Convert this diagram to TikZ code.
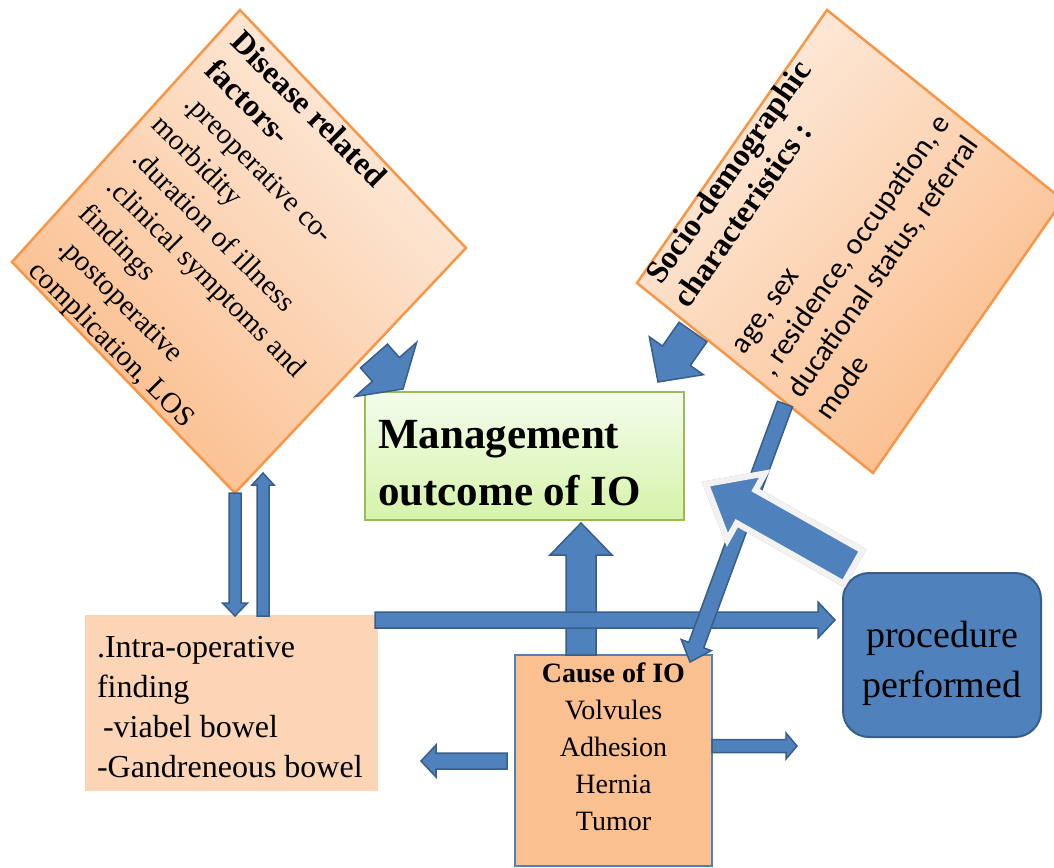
\documentclass[tikz,border=0pt]{standalone}
\usepackage{fontspec}
\setmainfont{Liberation Serif}
\newfontfamily\calibrifont{Carlito}
\usetikzlibrary{calc}
\definecolor{oborder}{RGB}{247,150,70}
\definecolor{olight}{RGB}{253,236,222}
\definecolor{odark}{RGB}{251,188,138}
\definecolor{bfill}{RGB}{79,129,189}
\definecolor{bdraw}{RGB}{56,93,138}
\definecolor{gtop}{RGB}{244,252,236}
\definecolor{gbot}{RGB}{214,243,170}
\definecolor{gdraw}{RGB}{155,187,89}
\definecolor{causefill}{RGB}{250,192,144}
\definecolor{intrafill}{RGB}{251,213,181}
\definecolor{bigborder}{RGB}{242,242,242}
\tikzset{
  barrow/.style={fill=bfill, draw=bdraw, line width=1.5pt, line join=miter},
  diamondL/.style={draw=oborder, line width=2.5pt, top color=olight, bottom color=odark, shading angle=-45},
  diamondR/.style={draw=oborder, line width=2.5pt, top color=olight, bottom color=odark, shading angle=45},
  mgmtbox/.style={inner sep=0pt, draw=gdraw, line width=2.5pt, top color=gtop, bottom color=gbot},
  causebox/.style={inner sep=0pt, draw=bfill, line width=2pt, fill=causefill},
  intrabox/.style={inner sep=0pt, fill=intrafill},
  procbox/.style={inner sep=0pt, draw=bdraw, line width=2pt, fill=bfill, rounded corners=26pt},
  dtextstyle/.style={inner sep=0pt, align=left},
}
\makeatletter
\newcommand\blockarr[6][]{%
  \pgfpointanchor{#2}{center}%
  \edef\ba@xa{\strip@pt\pgf@x}\edef\ba@ya{\strip@pt\pgf@y}%
  \pgfpointanchor{#3}{center}%
  \edef\ba@xb{\strip@pt\pgf@x}\edef\ba@yb{\strip@pt\pgf@y}%
  \pgfmathsetmacro\ba@ang{atan2(\ba@yb-\ba@ya,\ba@xb-\ba@xa)}%
  \pgfmathsetmacro\ba@len{veclen(\ba@xb-\ba@xa,\ba@yb-\ba@ya)}%
  \pgfmathsetmacro\ba@base{\ba@len-#6}%
  \draw[barrow,#1,shift={(#2)},rotate=\ba@ang]
    (0pt,#4pt) -- (\ba@base pt,#4pt) -- (\ba@base pt,#5pt) -- (\ba@len pt,0pt)
    -- (\ba@base pt,-#5pt) -- (\ba@base pt,-#4pt) -- (0pt,-#4pt) -- cycle;
}
\makeatother
\begin{document}
\begin{tikzpicture}[x=1pt,y=-1pt]
\useasboundingbox (0,0) rectangle (1054,867);
% diamonds
\coordinate (LT) at (240,10);
\coordinate (LR) at (466,248);
\coordinate (LB) at (235,493);
\coordinate (LL) at (12,262);
\coordinate (RT) at (827,10);
\coordinate (RR) at (1063,200);
\coordinate (RB) at (873,473);
\coordinate (RL) at (637,283);
\path[diamondL] (LT) -- (LR) -- (LB) -- (LL) -- cycle;
\path[diamondR] (RT) -- (RR) -- (RB) -- (RL) -- cycle;
\node[dtextstyle, rotate=-45, anchor=north west, font=\fontsize{29}{38}\selectfont] (dtext) at (245,28)
 {{\bfseries\fontsize{32}{38}\selectfont Disease related}\\
  \hspace*{2pt}{\bfseries\fontsize{32}{38}\selectfont factors-}\\
  \hspace*{11pt}.preoperative co-\\
  \hspace*{3pt}morbidity\\
  \hspace*{13pt}.duration of illness\\
  \hspace*{15pt}.clinical symptoms and\\
  \hspace*{14pt}findings\\
  \hspace*{23pt}.postoperative\\
  \hspace*{19pt}complication, LOS};
\node[dtextstyle, rotate=55, anchor=north west, font=\calibrifont\fontsize{30}{36}\selectfont] (stext) at (634.4,285.3)
 {\hspace*{15pt}{\rmfamily\bfseries\fontsize{32}{36}\selectfont Socio-demographic}\\
  \hspace*{11pt}{\rmfamily\bfseries\fontsize{32}{36}\selectfont characteristics :}\\
  \mbox{}\\
  \hspace*{6pt}age, sex\\
  \hspace*{4pt}, residence, occupation, e\\
  \hspace*{2pt}ducational status, referral\\
  mode};
% boxes
\node[mgmtbox] (mgmt) at (524.5,456)
 {\parbox[c][128pt][t]{319pt}{\fontsize{43}{57}\selectfont\bfseries\rule{0pt}{56pt}\hspace*{13pt}Management\\\hspace*{13pt}outcome of IO}};
\node[intrabox] (intra) at (231.5,703)
 {\parbox[c][176pt][t]{293pt}{\raggedright\fontsize{32}{40.3}\selectfont\rule{0pt}{42pt}\hspace*{12pt}.Intra-operative\\\hspace*{12pt}finding\\\hspace*{18pt}-viabel bowel\\\hspace*{12pt}-Gandreneous bowel}};
\node[causebox] (cause) at (613.5,760.5)
 {\parbox[c][211pt][t]{197pt}{\centering\fontsize{28}{37}\selectfont\rule{0pt}{27pt}\textbf{Cause of IO}\\Volvules\\Adhesion\\Hernia\\Tumor}};
\node[procbox] (proc) at (942,655)
 {\parbox[c][164pt][t]{198pt}{\centering\fontsize{38}{50}\selectfont\rule{0pt}{74pt}procedure\\performed}};
% arrow end points
\coordinate (a1s) at (374,356); \coordinate (a1e) at (403,389);
\coordinate (a2s) at (693,332); \coordinate (a2e) at (658,382);
\coordinate (a3s) at (785,404); \coordinate (a3e) at (690,662);
\coordinate (a4s) at (581,655); \coordinate (a4e) at (581,523);
\coordinate (a5s) at (375,620); \coordinate (a5e) at (835,620);
\coordinate (a6s) at (235,493); \coordinate (a6e) at (235,616);
\coordinate (a7s) at (263,616); \coordinate (a7e) at (263,473);
\coordinate (a8s) at (507,761); \coordinate (a8e) at (421,761);
\coordinate (a9s) at (712,746); \coordinate (a9e) at (797,746);
\coordinate (a10s) at (853,567); \coordinate (a10e) at (706,484);
% arrows
\blockarr{a1s}{a1e}{18}{41}{26}
\blockarr{a2s}{a2e}{17}{33}{32}
\blockarr{a6s}{a6e}{6}{12.5}{13}
\blockarr{a7s}{a7e}{6}{11}{12}
\blockarr{a4s}{a4e}{15}{31}{32}
\blockarr{a5s}{a5e}{8}{18}{17}
\blockarr{a8s}{a8e}{8}{16}{15}
\blockarr{a9s}{a9e}{6.5}{13}{11}
\blockarr{a3s}{a3e}{8}{16}{18}
\blockarr[fill=black!30, draw=black!30, line width=6pt, xshift=2pt, yshift=-2pt]{a10s}{a10e}{19}{38}{46}
\blockarr[draw=bigborder, line width=6pt]{a10s}{a10e}{19}{38}{46}
\end{tikzpicture}
\end{document}
